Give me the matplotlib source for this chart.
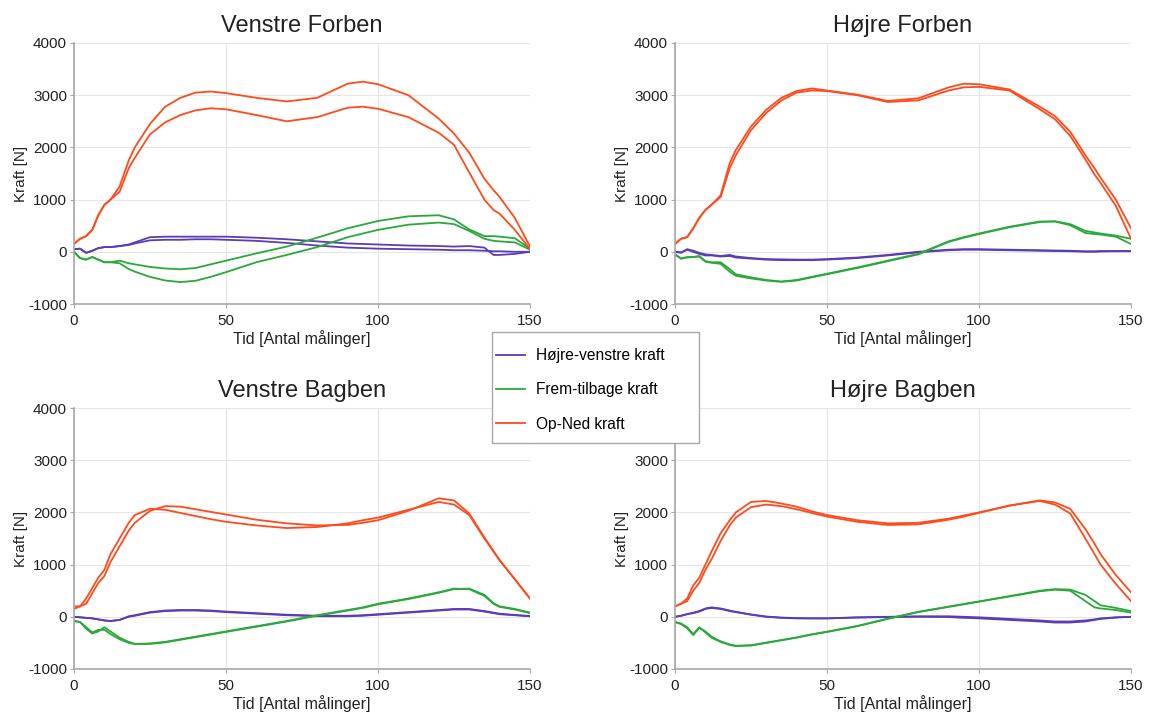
import matplotlib.pyplot as plt
from matplotlib.patches import Rectangle
import numpy as np

# sample positions (Tid [Antal målinger]) shared by all curves
tid = [0, 2, 4, 6, 8, 10, 12, 15, 18, 20, 25, 30, 35, 40, 45, 50, 60, 70, 80, 90,
       95, 100, 110, 120, 125, 130, 135, 138, 140, 145, 150]

# Venstre Forben
vf_hv_1 = [50, 60, -20, 20, 70, 90, 90, 110, 140, 180, 280, 290, 290, 290, 290, 290, 270, 240, 200, 160,
           150, 140, 120, 110, 100, 110, 80, -60, -60, -40, 0]
vf_hv_2 = [50, 60, -20, 20, 70, 90, 90, 110, 130, 160, 220, 230, 230, 240, 240, 230, 210, 170, 120, 80,
           70, 60, 50, 40, 30, 30, 20, 10, 10, 0, 0]
vf_ft_1 = [0, -120, -150, -100, -150, -200, -200, -170, -220, -240, -290, -320, -335, -310, -240, -170, -30, 100, 270, 450,
           520, 590, 680, 700, 620, 430, 300, 300, 290, 260, 60]
vf_ft_2 = [0, -120, -150, -100, -150, -200, -200, -220, -330, -380, -480, -550, -580, -555, -480, -390, -200, -60, 90, 280,
           350, 420, 520, 560, 530, 400, 250, 210, 200, 180, 40]
vf_on_1 = [150, 250, 300, 420, 700, 900, 1000, 1250, 1750, 2000, 2450, 2780, 2950, 3050, 3070, 3040, 2950, 2880, 2950, 3220,
           3260, 3210, 3000, 2550, 2265, 1900, 1400, 1180, 1050, 650, 100]
vf_on_2 = [150, 250, 300, 420, 700, 900, 1000, 1150, 1600, 1800, 2250, 2480, 2620, 2710, 2750, 2730, 2620, 2500, 2580, 2760,
           2780, 2740, 2580, 2280, 2050, 1520, 1000, 800, 730, 420, 50]

# Højre Forben
hf_hv_1 = [0, -20, 50, 20, -20, -50, -60, -80, -60, -90, -120, -140, -145, -150, -150, -140, -110, -60, 0, 40,
           50, 50, 40, 30, 25, 20, 10, 10, 15, 15, 15]
hf_hv_2 = [0, -10, 40, 0, -40, -70, -70, -90, -80, -110, -130, -150, -160, -160, -160, -150, -120, -70, -10, 30,
           40, 40, 30, 20, 15, 10, 0, 0, 5, 10, 10]
hf_ft_1 = [-50, -130, -100, -100, -80, -180, -200, -200, -330, -430, -490, -540, -570, -540, -480, -420, -300, -170, -40, 200,
           280, 350, 480, 580, 580, 510, 360, 340, 330, 290, 150]
hf_ft_2 = [-50, -130, -110, -100, -90, -190, -210, -230, -380, -460, -510, -550, -575, -550, -490, -430, -310, -180, -50, 190,
           270, 340, 470, 570, 585, 530, 400, 370, 350, 310, 250]
hf_on_1 = [150, 250, 280, 450, 650, 800, 900, 1080, 1700, 1950, 2400, 2720, 2950, 3080, 3130, 3090, 3010, 2890, 2940, 3150,
           3220, 3210, 3110, 2780, 2600, 2300, 1850, 1600, 1420, 1000, 450]
hf_on_2 = [150, 250, 280, 450, 650, 800, 900, 1050, 1600, 1850, 2330, 2660, 2900, 3050, 3090, 3080, 3000, 2870, 2900, 3090,
           3150, 3160, 3090, 2730, 2540, 2220, 1770, 1480, 1320, 880, 250]

# Venstre Bagben
vb_hv_1 = [0, -10, -20, -30, -50, -70, -80, -60, 0, 20, 80, 110, 120, 120, 110, 90, 60, 30, 10, 10,
           20, 40, 80, 120, 140, 140, 100, 70, 50, 30, 10]
vb_hv_2 = [0, -10, -20, -30, -50, -70, -80, -60, 10, 30, 90, 120, 130, 130, 120, 100, 70, 40, 20, 20,
           30, 50, 90, 130, 150, 150, 110, 80, 60, 35, 15]
vb_ft_1 = [-80, -100, -200, -300, -250, -250, -330, -430, -500, -520, -510, -480, -430, -380, -330, -280, -180, -80, 30, 130,
           180, 250, 350, 470, 540, 530, 400, 250, 190, 140, 70]
vb_ft_2 = [-80, -100, -230, -320, -280, -200, -280, -400, -480, -520, -520, -490, -440, -390, -340, -290, -190, -90, 20, 120,
           170, 240, 340, 460, 530, 540, 420, 260, 200, 150, 80]
vb_on_1 = [200, 200, 350, 550, 750, 900, 1200, 1500, 1800, 1950, 2070, 2050, 1990, 1930, 1870, 1820, 1750, 1700, 1720, 1790,
           1850, 1900, 2050, 2200, 2150, 1950, 1500, 1250, 1080, 720, 350]
vb_on_2 = [150, 200, 250, 450, 650, 780, 1050, 1350, 1650, 1800, 2030, 2120, 2110, 2060, 2010, 1960, 1860, 1790, 1750, 1760,
           1800, 1850, 2030, 2270, 2230, 1980, 1520, 1260, 1090, 720, 350]

# Højre Bagben
hb_hv_1 = [0, 20, 50, 70, 100, 150, 170, 150, 110, 90, 40, 0, -20, -30, -30, -30, -10, 0, 10, 10,
           0, -10, -40, -70, -90, -90, -70, -50, -30, -10, 0]
hb_hv_2 = [0, 20, 50, 80, 110, 160, 180, 160, 120, 95, 45, 5, -15, -25, -30, -30, -15, -5, 0, -5,
           -20, -30, -60, -90, -110, -110, -90, -60, -40, -15, 0]
hb_ft_1 = [-100, -130, -200, -330, -200, -300, -400, -480, -540, -560, -550, -500, -450, -400, -340, -290, -180, -40, 90, 190,
           240, 290, 390, 490, 520, 500, 300, 180, 160, 130, 80]
hb_ft_2 = [-100, -140, -220, -350, -210, -280, -380, -470, -530, -555, -545, -495, -445, -395, -335, -285, -175, -35, 95, 195,
           245, 295, 395, 500, 530, 520, 420, 300, 220, 170, 110]
hb_on_1 = [200, 250, 350, 600, 750, 1000, 1250, 1600, 1850, 2000, 2200, 2220, 2170, 2110, 2020, 1950, 1850, 1790, 1800, 1880,
           1940, 2000, 2130, 2230, 2190, 2070, 1680, 1400, 1200, 800, 470]
hb_on_2 = [200, 250, 300, 500, 650, 900, 1100, 1450, 1750, 1900, 2100, 2150, 2120, 2060, 1990, 1920, 1820, 1760, 1770, 1860,
           1920, 1990, 2130, 2220, 2150, 1980, 1500, 1200, 1000, 630, 300]

titles = ["Venstre Forben", "Højre Forben", "Venstre Bagben", "Højre Bagben"]
labels = ["Højre-venstre kraft", "Frem-tilbage kraft", "Op-Ned kraft"]
colors = ["#5a3db5", "#2aa83a", "#ff4a1c"]

panels = [
    [(vf_hv_1, vf_hv_2), (vf_ft_1, vf_ft_2), (vf_on_1, vf_on_2)],
    [(hf_hv_1, hf_hv_2), (hf_ft_1, hf_ft_2), (hf_on_1, hf_on_2)],
    [(vb_hv_1, vb_hv_2), (vb_ft_1, vb_ft_2), (vb_on_1, vb_on_2)],
    [(hb_hv_1, hb_hv_2), (hb_ft_1, hb_ft_2), (hb_on_1, hb_on_2)],
]

plt.rcParams['font.family'] = ['Liberation Sans', 'DejaVu Sans']
plt.rcParams['axes.unicode_minus'] = False

fig = plt.figure(figsize=(11.6, 7.15), dpi=100)
W, H = 1160, 715
boxes = [(74, 43), (675, 43), (74, 408), (675, 408)]  # left, top in pixels

handles = []
for (left, top), title, panel in zip(boxes, titles, panels):
    ax = fig.add_axes([left / W, 1 - (top + 261) / H, 456 / W, 261 / H])
    for (c1, c2), col in zip(panel, colors):
        h, = ax.plot(tid, c1, color=col, lw=1.3)
        ax.plot(tid, c2, color=col, lw=1.3)
        if len(handles) < 3:
            handles.append(h)
    ax.set_xlim(0, 150)
    ax.set_ylim(-1000, 4000)
    ax.set_xticks([0, 50, 100, 150])
    ax.set_yticks([-1000, 0, 1000, 2000, 3000, 4000])
    ax.grid(True, color="#e6e6e6", lw=0.8)
    ax.set_axisbelow(True)
    for s in ["top", "right"]:
        ax.spines[s].set_visible(False)
    for s in ["left", "bottom"]:
        ax.spines[s].set_color("#a8a8a8")
        ax.spines[s].set_linewidth(1.2)
    ax.tick_params(direction="out", length=3, colors="#a8a8a8", labelcolor="#222222", labelsize=11)
    ax.tick_params(axis="x", pad=4)
    ax.tick_params(axis="y", pad=2)
    ax.set_title(title, fontsize=17, pad=8, color="#222222")
    ax.set_ylabel("Kraft [N]", fontsize=11, color="#222222", labelpad=0)
    ax.set_xlabel("Tid [Antal målinger]", fontsize=11.5, color="#222222", labelpad=2)

# legend frame sits on top of the lower right axes, like in the original
fig.patches.append(Rectangle((492 / W, 1 - 443 / H), 207 / W, 111 / H, transform=fig.transFigure,
                             facecolor="white", edgecolor="#a8a8a8", lw=1.0, zorder=2))
leg = fig.legend(handles, labels, loc="upper left", bbox_to_anchor=(496 / W, 1 - 348 / H),
                 fontsize=11.2, frameon=False, labelspacing=1.25, handlelength=1.85,
                 handletextpad=0.75, borderpad=0, borderaxespad=0)
leg.set_zorder(3)

fig.savefig("out.png", dpi=100)
